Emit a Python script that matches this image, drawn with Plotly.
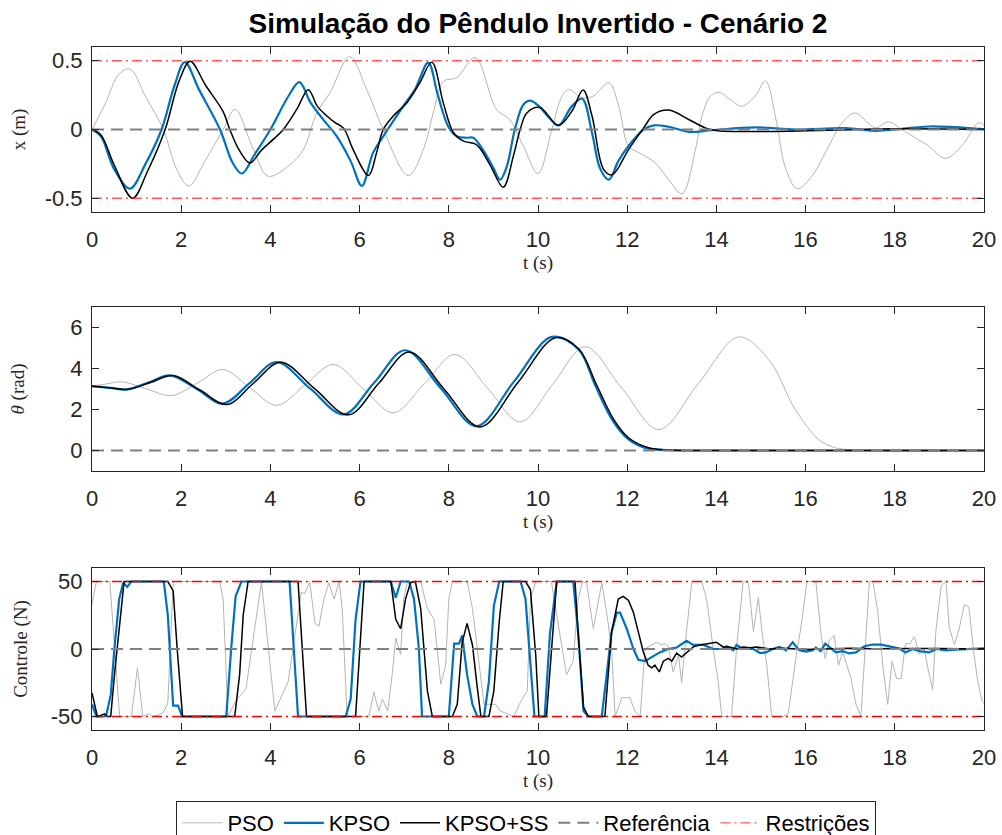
import plotly.graph_objects as go

# ---------------- data ----------------
# Cart position x (m)
t_x_pso = [0, 0.3, 0.6, 0.85, 1.2, 1.6, 1.9, 2.17, 2.55, 2.94, 3.21, 3.62, 3.95, 4.44, 4.74, 5.04,
           5.34, 5.78, 6.16, 6.53, 7.09, 7.43, 7.65, 7.88, 8.18, 8.59, 9.07, 9.37, 9.67, 10.0, 10.31,
           10.54, 10.69, 10.99, 11.24, 11.59, 11.81, 12.03, 12.33, 12.63, 12.93, 13.23, 13.53, 13.68,
           13.87, 14.06, 14.3, 14.57, 14.87, 15.1, 15.35, 15.54, 15.81, 16.14, 16.52, 16.82, 17.11,
           17.56, 17.86, 18.16, 18.46, 18.76, 19.13, 19.5, 19.88, 20]
x_pso = [0, 0.19, 0.4, 0.44, 0.24, 0, -0.29, -0.41, -0.22, 0, 0.146, -0.146, -0.34, -0.255, -0.146, 0.12,
         0.27, 0.53, 0.29, 0, -0.335, -0.146, 0.12, 0.35, 0.377, 0.523, 0.146, 0.07, -0.12, -0.32, 0,
         0.243, 0.29, 0.23, 0.243, 0.34, 0.17, -0.12, -0.18, -0.243, -0.365, -0.467, -0.146, 0.1,
         0.243, 0.27, 0.22, 0.17, 0.243, 0.353, 0.05, -0.27, -0.43, -0.34, -0.12, 0.05, 0.12,
         0.012, 0.056, 0, -0.06, -0.12, -0.21, -0.12, 0.05, 0.03]

t_x_kpso = [0, 0.2, 0.5, 0.85, 1.2, 1.56, 1.85, 2.08, 2.4, 2.87, 3.15, 3.36, 3.65, 4.0, 4.4, 4.65, 4.9,
            5.19, 5.49, 5.8, 6.05, 6.3, 6.53, 6.98, 7.24, 7.54, 7.75, 7.99, 8.18, 8.4, 8.55, 8.77, 9.0,
            9.15, 9.3, 9.48, 9.67, 9.82, 10.02, 10.25, 10.46, 10.76, 10.99, 11.21, 11.4, 11.59, 11.8,
            12.03, 12.37, 12.6, 12.93, 13.38, 13.9, 14.87, 15.77, 16.9, 17.56, 18.77, 19.9, 20]
x_kpso = [0, -0.05, -0.29, -0.43, -0.25, 0, 0.32, 0.49, 0.29, 0, -0.24, -0.32, -0.18, 0, 0.24, 0.345, 0.195,
          0.07, -0.05, -0.23, -0.41, -0.17, -0.05, 0.17, 0.29, 0.487, 0.255, 0.02, -0.05, -0.06, -0.06, -0.15, -0.28,
          -0.365, -0.27, 0, 0.18, 0.21, 0.17, 0.085, 0.03, 0.17, 0.224, -0.024, -0.29, -0.365, -0.23,
          -0.12, 0, 0.03, 0.02, -0.017, -0.005, 0.015, 0, 0.01, -0.01, 0.022, 0.005, 0.003]

t_x_ss = [0, 0.2, 0.5, 0.91, 1.25, 1.64, 1.95, 2.2, 2.55, 2.94, 3.09, 3.3, 3.54, 3.8, 4.07, 4.29, 4.59,
          4.85, 5.05, 5.26, 5.45, 5.64, 5.86, 6.2, 6.38, 6.53, 6.76, 7.06, 7.35, 7.62, 7.88, 8.1, 8.33,
          8.62, 8.92, 9.22, 9.45, 9.6, 9.75, 10.04, 10.46, 10.76, 11.01, 11.21, 11.47, 11.66, 12.03,
          12.37, 12.6, 12.93, 13.38, 13.75, 13.98, 15.02, 16.52, 18.0, 20]
x_ss = [0, -0.04, -0.26, -0.50, -0.3, 0, 0.35, 0.496, 0.32, 0.13, 0, -0.15, -0.243, -0.15, -0.07, 0, 0.146,
        0.29, 0.17, 0.1, 0.05, 0.01, -0.15, -0.335, -0.17, 0, 0.1, 0.195, 0.34, 0.49, 0.19, -0.02, -0.085,
        -0.11, -0.255, -0.42, -0.19, 0, 0.12, 0.16, 0.03, 0.134, 0.287, 0.1, -0.29, -0.33, -0.146,
        0.012, 0.11, 0.141, 0.073, 0.012, -0.007, -0.015, -0.005, 0.005, 0]

# Pendulum angle theta (rad)
t_th_pso = [0, 0.33, 0.67, 1.23, 1.79, 2.37, 2.94, 3.54, 4.14, 4.78, 5.41, 6.08, 6.76, 7.45, 8.14, 8.87,
            9.6, 10.33, 11.06, 11.88, 12.71, 13.6, 14.5, 15.17, 15.77, 16.29, 16.6, 16.89, 17.5, 20]
th_pso = [3.14, 3.25, 3.35, 3.0, 2.68, 3.3, 3.95, 3.07, 2.2, 3.2, 4.2, 3.02, 1.84, 3.26, 4.68, 3.04,
          1.4, 3.23, 5.06, 3.04, 1.02, 3.28, 5.54, 4.44, 2.0, 0.54, 0.18, 0.05, 0, 0]

t_th_kpso = [0, 0.4, 0.78, 1.25, 1.75, 2.35, 2.94, 3.54, 4.14, 4.89, 5.64, 6.33, 7.02, 7.82, 8.62, 9.46,
             10.31, 10.91, 11.29, 11.66, 12.03, 12.4, 12.93, 14, 20]
th_kpso = [3.14, 3.05, 2.98, 3.3, 3.66, 3.0, 2.29, 3.3, 4.31, 3.03, 1.76, 3.32, 4.89, 3.04, 1.19, 3.36,
           5.54, 4.93, 3.14, 1.51, 0.54, 0.13, 0.02, 0, 0]

t_th_ss = [0, 0.4, 0.81, 1.31, 1.82, 2.42, 3.02, 3.62, 4.23, 4.99, 5.75, 6.43, 7.11, 7.9, 8.7, 9.55,
           10.39, 10.91, 11.32, 11.7, 12.03, 12.48, 12.93, 14, 20]
th_ss = [3.14, 3.06, 2.98, 3.32, 3.66, 2.95, 2.24, 3.28, 4.31, 3.02, 1.74, 3.28, 4.81, 2.98, 1.15, 3.32,
         5.5, 4.96, 3.17, 1.51, 0.62, 0.13, 0.02, 0, 0]

# Control force (N)
t_u_pso = [0, 0.1, 0.4, 0.62, 0.88, 1.02, 1.14, 1.26, 1.37, 1.48, 1.6, 1.7, 1.82, 2.86, 2.94, 3.05, 3.25,
           3.45, 3.8, 4.1, 4.4, 4.69, 4.77, 4.88, 5.0, 5.09, 5.2, 5.31, 5.43, 5.54, 5.61, 5.72, 6.21,
           6.32, 6.43, 6.51, 6.63, 6.73, 6.81, 6.92, 6.99, 7.07, 7.37, 7.52, 7.67, 7.82, 7.93, 8.0, 8.08,
           8.41, 8.53, 8.79, 9.05, 9.16, 9.46, 9.61, 9.76, 9.83, 9.95, 10.3, 10.42, 10.53, 10.64, 10.79,
           10.9, 11.0, 11.09, 11.24, 11.43, 11.54, 11.65, 11.73, 11.88, 12.06, 12.17, 12.29, 12.4, 12.55,
           12.66, 12.77, 12.85, 12.92, 13.03, 13.15, 13.22, 13.33, 13.45, 13.67, 13.78, 13.93, 14.04,
           14.12, 14.34, 14.45, 14.6, 14.72, 14.83, 14.94, 15.02, 15.13, 15.24, 15.5, 15.61, 15.78, 15.9,
           16.03, 16.23, 16.35, 16.44, 16.53, 16.64, 16.74, 16.83, 17.02, 17.13, 17.24, 17.43, 17.51,
           17.62, 17.73, 17.84, 17.94, 18.04, 18.14, 18.24, 18.33, 18.44, 18.55, 18.66, 18.74, 18.85,
           18.92, 19.04, 19.15, 19.22, 19.34, 19.45, 19.56, 19.66, 19.78, 19.86, 19.96, 20]
u_pso = [33, 50, 50, -50, -50, -14, -50, -48, -50, -49, -47, -40, 50, 50, 37, -50, -37,
         -30, 50, -46, -24, 42, 41, 50, 19, 17, 37, 49, 37, 50, 30, -50, -50,
         -32, -46, -37, -46, -19, 8, -4, 37, 50, 50, 30, 22, -26, -12, 37, 50,
         50, 30, -41, -41, -46, -50, -39, -31, 37, 50, 50, 25, 3, -19, -9,
         37, 50, 49, 15, 49, 27, 0, -50, -36, -36, -46, -50, 0, 3,
         5, 3, 4, 2, -17, -4, -25, 13, 50, 50, 37, 0, -24,
         -50, -50, 0, 50, 49, 13, 38, 13, -12, -50, -50, -48, -7, 17,
         50, 50, 10, -7, 6, 10, -12, -2, -22, -41, -50, 50, 50,
         27, -12, -41, -9, -22, -22, 4, 4, 9, -4, 0, -14, -30,
         13, 47, 50, 16, 3, 16, 33, 31, -5, -24, -39, -40]

t_u_kpso = [0, 0.1, 0.28, 0.32, 0.42, 0.51, 0.61, 0.7, 0.79, 0.88, 1.61, 1.7, 1.82, 1.93, 2.02, 3.01,
            3.12, 3.22, 3.35, 4.43, 4.62, 5.69, 5.8, 5.91, 6.02, 6.7, 6.81, 6.92, 7.11, 7.22, 7.33, 7.4,
            8.0, 8.12, 8.23, 8.3, 8.41, 8.53, 8.64, 8.79, 8.9, 9.01, 9.13, 9.61, 9.72, 9.83, 9.92, 10.15,
            10.27, 10.42, 10.79, 10.9, 11.02, 11.13, 11.43, 11.54, 11.65, 11.77, 11.84, 11.99, 12.14,
            12.25, 12.4, 12.55, 12.73, 12.92, 13.1, 13.33, 13.48, 13.71, 13.93, 14.12, 14.23, 14.38,
            14.45, 14.6, 14.83, 14.98, 15.11, 15.26, 15.41, 15.56, 15.71, 15.86, 16.01, 16.16, 16.23,
            16.34, 16.44, 16.57, 16.68, 16.83, 16.98, 17.13, 17.32, 17.5, 17.69, 17.88, 18.1, 18.24,
            18.4, 18.55, 18.77, 18.93, 19.15, 19.37, 19.6, 19.78, 20]
u_kpso = [-41, -50, -50, -49, -34, 3, 37, 49, 46, 50, 50, 25, -42, -42, -50, -50,
          0, 39, 50, 50, -50, -50, -37, 22, 50, 50, 38, 50, 50, 37, 0, -50,
          -50, 4, 4, 10, -19, -41, -50, -50, -24, 32, 50, 50, 37, -12, -50, -50,
          12, 50, 50, 12, -46, -50, -50, -19, 12.5, 27, 27, 15, 0,
          -8, -9, -6, -2.5, 0, 1, 6, 3, 3, 0, 0, 2, -1,
          3, 0, 0, -3, -2.5, 0, 1.5, -1, 5, -1, -2, -1, 1,
          -1.6, 4, 0.4, -2.5, -1.6, -3.3, -2.5, 2, 3.3, 3.3, 2, 0.4, -2.5,
          0, -1.6, -2.5, 0, -1, -0.4, 0, 0.4, 0.4]

t_u_ss = [0, 0.12, 0.21, 0.28, 0.34, 0.42, 0.51, 0.62, 0.72, 1.7, 1.82, 1.91, 2.03, 3.2, 3.31, 3.39,
          3.5, 4.62, 4.81, 5.91, 6.01, 6.1, 6.7, 6.81, 6.92, 7.03, 7.14, 7.25, 7.37, 7.52, 7.63, 8.08,
          8.19, 8.3, 8.41, 8.53, 8.64, 8.72, 8.9, 9.01, 9.13, 9.22, 9.72, 9.83, 9.95, 10.02, 10.19,
          10.31, 10.42, 10.83, 10.9, 11.02, 11.13, 11.5, 11.65, 11.8, 11.91, 12.03, 12.14, 12.25, 12.36,
          12.47, 12.55, 12.62, 12.72, 12.81, 12.92, 13.0, 13.11, 13.22, 13.33, 13.48, 13.63, 13.81,
          14.0, 14.15, 14.3, 14.45, 14.6, 14.75, 14.9, 15.2, 15.5, 16.0, 16.5, 17.0, 17.5, 18.0, 18.5,
          19.0, 19.5, 20]
u_ss = [-32.5, -50, -49, -48, -50, -50, -17, 17, 50, 50, 43, 0, -50, -50, -19, 25,
        50, 50, -50, -50, -1, 50, 50, 22, 15, 37, 49, 50, 30, -31, -50, -50,
        -41, 5, 19, 3, -29, -50, -50, -31, 20, 50, 50, 44, -5, -50, -50,
        0, 50, 50, 12, -43, -50, -50, 12.5, 37, 39, 36, 27, 12.5, -2,
        -12, -14, -12, -17, -9, -7, -9, -3, -6, -3, 1.6, 3, 4,
        5, 1.5, 1.5, 0, 1.5, 1, 1.5, 0, 0.5, -0.3, 0.3, 0.5, 0.2, 0, 0.3,
        0.3, 0, 0]

t_span = [0, 20]
x_ref, x_lim = 0, 0.5
th_ref = 0
u_ref, u_lim = 0, 50

x_ticks = list(range(0, 21, 2))

# ---------------- styles ----------------
C_PSO = "#b4b4b4"
C_KPSO = "#0072BD"
C_SS = "#000000"
C_REF = "#808080"
C_LIM = "#ff0000"
DASH_REF = "12px,7px"
DASH_LIM = "10px,4px,2px,4px"
SANS = "Liberation Sans, Arial, sans-serif"
SERIF = "Liberation Serif, Times New Roman, serif"
TXT = "#262626"

fig = go.Figure()


def add_panel(row, series, ref, lim, spline, lim_color):
    xa = "x" if row == 1 else f"x{row}"
    ya = "y" if row == 1 else f"y{row}"
    first = row == 1
    shape = "spline" if spline else "linear"
    (tp, vp), (tk, vk), (ts, vs) = series
    fig.add_trace(go.Scatter(x=tp, y=vp, mode="lines", name="PSO", legendgroup="pso",
                             showlegend=first, line=dict(color=C_PSO, width=1, shape=shape),
                             xaxis=xa, yaxis=ya))
    fig.add_trace(go.Scatter(x=tk, y=vk, mode="lines", name="KPSO", legendgroup="kpso",
                             showlegend=first, line=dict(color=C_KPSO, width=2.2, shape=shape),
                             xaxis=xa, yaxis=ya))
    fig.add_trace(go.Scatter(x=ts, y=vs, mode="lines", name="KPSO+SS", legendgroup="ss",
                             showlegend=first, line=dict(color=C_SS, width=1.5, shape=shape),
                             xaxis=xa, yaxis=ya))
    fig.add_trace(go.Scatter(x=t_span, y=[ref, ref], mode="lines", name="Referência",
                             legendgroup="ref", showlegend=first,
                             line=dict(color=C_REF, width=2, dash=DASH_REF),
                             xaxis=xa, yaxis=ya))
    if lim is not None:
        for k, s in enumerate((1, -1)):
            fig.add_trace(go.Scatter(x=t_span, y=[s * lim, s * lim], mode="lines",
                                     name="Restrições", legendgroup="lim",
                                     showlegend=first and k == 0,
                                     line=dict(color=lim_color, width=1.3, dash=DASH_LIM),
                                     xaxis=xa, yaxis=ya))


add_panel(1, [(t_x_pso, x_pso), (t_x_kpso, x_kpso), (t_x_ss, x_ss)], x_ref, x_lim, True,
          "rgba(255,0,0,0.65)")
add_panel(2, [(t_th_pso, th_pso), (t_th_kpso, th_kpso), (t_th_ss, th_ss)], th_ref, None, True,
          C_LIM)
add_panel(3, [(t_u_pso, u_pso), (t_u_kpso, u_kpso), (t_u_ss, u_ss)], u_ref, u_lim, False,
          C_LIM)

H_TOP, H_BOT = 47, 730
span = H_BOT - H_TOP


def dom(top_px, bot_px):
    return [(H_BOT - bot_px) / span, (H_BOT - top_px) / span]


axis_common = dict(showline=True, linecolor=TXT, linewidth=1, mirror="ticks",
                   ticks="inside", ticklen=7, tickcolor=TXT, showgrid=False,
                   zeroline=False, tickfont=dict(family=SANS, size=22, color=TXT))

x_axis = dict(axis_common, range=[0, 20], tickvals=x_ticks, ticktext=[str(v) for v in x_ticks],
              ticklabelstandoff=8,
              title=dict(text="t (s)", font=dict(family=SERIF, size=19, color=TXT),
                         standoff=4))

fig.update_layout(
    width=1002, height=835,
    margin=dict(l=92, r=18, t=H_TOP, b=835 - H_BOT, autoexpand=False),
    paper_bgcolor="white", plot_bgcolor="white",
    title=dict(text="<b>Simulação do Pêndulo Invertido - Cenário 2</b>",
               font=dict(family=SANS, size=28, color="#000000"),
               x=(92 + 984) / 2 / 1002, xanchor="center", y=1 - 23 / 835, yanchor="middle"),
    xaxis=dict(x_axis, domain=[0, 1], anchor="y"),
    xaxis2=dict(x_axis, domain=[0, 1], anchor="y2"),
    xaxis3=dict(x_axis, domain=[0, 1], anchor="y3"),
    yaxis=dict(axis_common, domain=dom(47, 212), range=[-0.6, 0.6], anchor="x",
               tickvals=[-0.5, 0, 0.5], ticktext=["-0.5", "0", "0.5"], ticklabelstandoff=4,
               title=dict(text="x (m)", font=dict(family=SERIF, size=19, color=TXT),
                          standoff=14)),
    yaxis2=dict(axis_common, domain=dom(307, 471), range=[-1, 7], anchor="x2",
                tickvals=[0, 2, 4, 6], ticktext=["0", "2", "4", "6"], ticklabelstandoff=4,
                title=dict(text="<i>θ</i> (rad)", font=dict(family=SERIF, size=19, color=TXT),
                           standoff=40)),
    yaxis3=dict(axis_common, domain=dom(568, 730), range=[-60, 60], anchor="x3",
                tickvals=[-50, 0, 50], ticktext=["-50", "0", "50"], ticklabelstandoff=4,
                title=dict(text="Controle (N)", font=dict(family=SERIF, size=19, color=TXT),
                           standoff=18)),
    legend=dict(orientation="h", x=0.487, xanchor="center", y=(H_BOT - 801) / span,
                yanchor="top", bgcolor="white", bordercolor=TXT, borderwidth=1,
                font=dict(family=SANS, size=22, color="#000000"), itemwidth=40,
                traceorder="normal"),
    showlegend=True,
)

fig.write_html("out.html")
